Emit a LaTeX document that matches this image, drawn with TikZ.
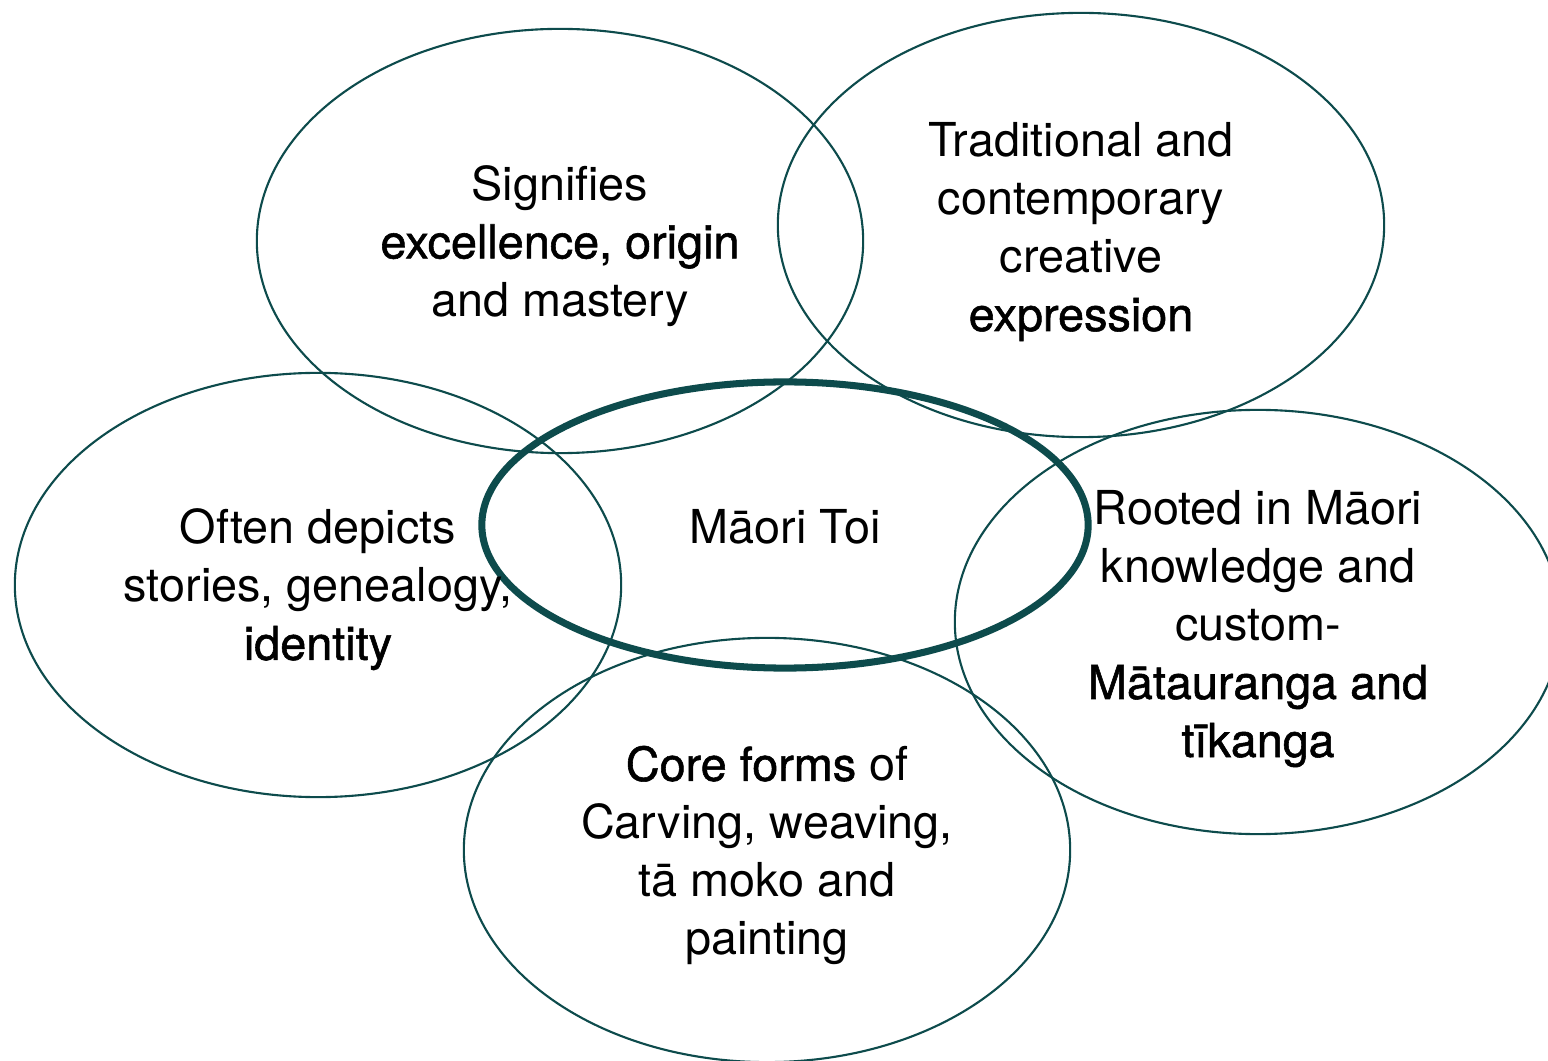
\documentclass[tikz,border=0pt]{standalone}
\usepackage{fontspec}
\setmainfont{TeX Gyre Heros}
\newfontfamily\strongfont{TeX Gyre Heros}[FakeBold=1.2]
\usetikzlibrary{shapes.geometric}

\definecolor{toiteal}{HTML}{0D4B4C}
\newcommand{\toikey}[1]{{\strongfont #1}}

\tikzset{
  petal/.style={ellipse, draw=toiteal, line width=0.6pt, inner sep=0pt,
    minimum width=6.06cm, minimum height=4.24cm},
  core/.style={petal, line width=2pt, minimum height=2.86cm},
  petaltext/.style={align=center, inner sep=0pt,
    font=\fontsize{13.3}{16.5}\selectfont}
}

\begin{document}
\begin{tikzpicture}[x=0.01cm, y=-0.01cm]

% Fix the frame of the picture
\useasboundingbox (0,0) rectangle (1548,1061);
\clip (0,0) rectangle (1548,1061);

% Outer ellipses
\node[petal] (origin) at (560,241) {};
\node[petal] (express) at (1081,225) {};
\node[petal] (identity) at (318,585) {};
\node[petal] (rooted) at (1258,622) {};
\node[petal] (forms) at (767,850) {};

% Centre ellipse
\node[core] (toi) at (785,525) {};

% Texts
\node[petaltext] (origin-text) at ([yshift=-0.05cm]origin.center) {Signifies\\ \toikey{excellence, origin}\\ and mastery};
\node[petaltext] (express-text) at ([yshift=-0.07cm]express.center) {Traditional and\\ contemporary\\ creative\\ \toikey{expression}};
\node[petaltext] (identity-text) at ([yshift=-0.045cm]identity.center) {Often depicts\\ stories, genealogy,\\ \toikey{identity}};
\node[petaltext] (rooted-text) at ([yshift=-0.07cm]rooted.center) {Rooted in Māori\\ knowledge and\\ custom-\\ \toikey{Mātauranga and}\\ \toikey{tīkanga}};
\node[petaltext] (forms-text) at ([yshift=-0.055cm]forms.center) {\toikey{Core forms} of\\ Carving, weaving,\\ tā moko and\\ painting};
\node[petaltext] (toi-text) at ([yshift=-0.02cm]toi.center) {Māori Toi};

\end{tikzpicture}
\end{document}
